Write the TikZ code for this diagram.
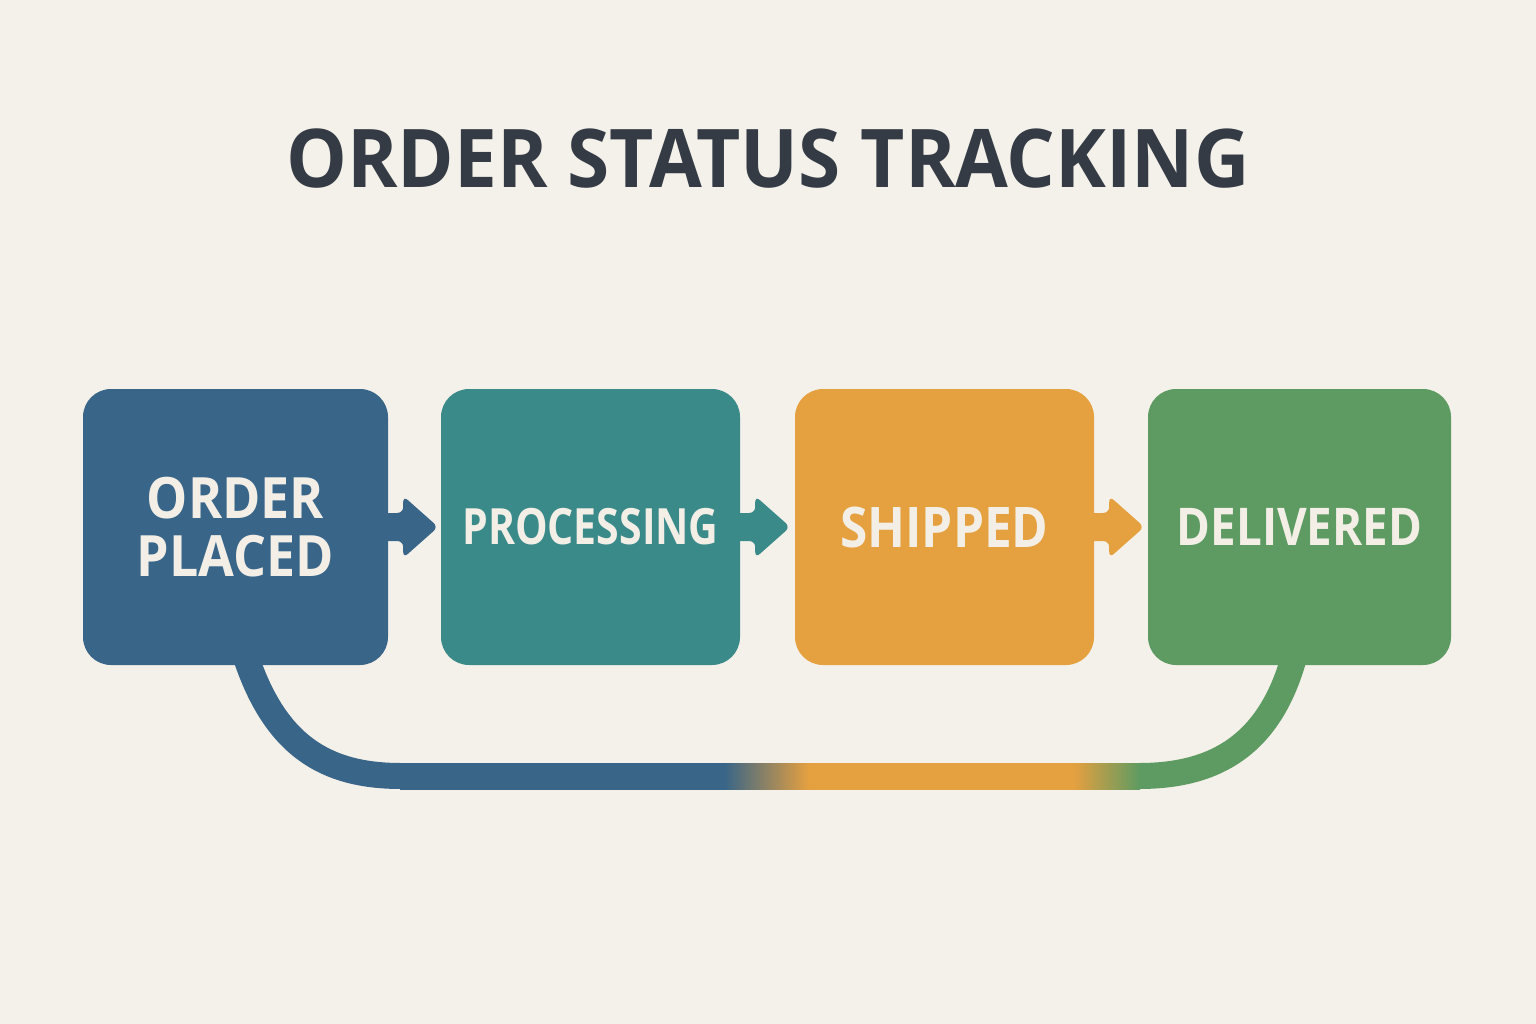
\documentclass[tikz,border=0pt]{standalone}
\usepackage{fontspec}
\setmainfont{Open Sans}
\newfontfamily\titlefont{Open Sans}[FakeStretch=0.945]
\newfontfamily\fontop{Open Sans}[FakeStretch=0.91]
\newfontfamily\fontpr{Open Sans}[FakeStretch=0.82]
\newfontfamily\fontsh{Open Sans}[FakeStretch=0.885]
\newfontfamily\fontde{Open Sans}[FakeStretch=0.88]
\usetikzlibrary{calc}
\definecolor{bg}{HTML}{F4F1EA}
\definecolor{titlec}{HTML}{343B44}
\definecolor{txt}{HTML}{F3EFE7}
\definecolor{cblue}{HTML}{386588}
\definecolor{cteal}{HTML}{3B8A8A}
\definecolor{corange}{HTML}{E5A040}
\definecolor{cgreen}{HTML}{5E9B62}
\pgfdeclarehorizontalshading{returnband}{100bp}{color(0bp)=(cblue); color(46.9bp)=(cblue); color(52.6bp)=(corange); color(70.5bp)=(corange); color(75bp)=(cgreen); color(100bp)=(cgreen)}
\tikzset{
  stagebox/.style={rounded corners=28pt, minimum width=#1, text width=#1, minimum height=276pt,
    inner sep=0pt, align=center, text=txt},
  linkarrow/.style={rounded corners=6pt},
  band/.style={line width=26pt, line cap=butt}
}
\begin{document}
\begin{tikzpicture}[x=1pt,y=-1pt]
\fill[bg] (0,0) rectangle (1536,1024);
\useasboundingbox (0,0) rectangle (1536,1024);

\node[anchor=base, text=titlec, font=\titlefont\bfseries\fontsize{81}{90}\selectfont] (title) at (768,188) {ORDER STATUS TRACKING};

% box placement (names only, drawn later for layering)
\path (235.5,527) node[stagebox=305pt] (op) {}
      (590.5,527) node[stagebox=299pt] (pr) {}
      (944.5,527) node[stagebox=299pt] (sh) {}
      (1299.5,527) node[stagebox=303pt] (de) {};

% return connector
\coordinate (bl) at (400,776);
\coordinate (br) at (1140,776);
\draw[band, cblue] ($(op.south)+(10.5,-8)$) .. controls ($(op.south)+(40,80)$) and ($(bl)+(-75,0)$) .. ($(bl)+(1,0)$);
\draw[band, cgreen] ($(br)+(-1,0)$) .. controls ($(br)+(75,0)$) and ($(de.south)+(-30,80)$) .. ($(de.south)+(-5.5,-8)$);
\shade[shading=returnband] ($(bl)+(0,-13)$) rectangle ($(br)+(0,13)$);

% step arrows
\foreach \a/\c in {op/cblue, pr/cteal, sh/corange}{
  \fill[\c, linkarrow] (\a.east) ++(-6,-14) -- ++(21,0) -- ++(0,-17) -- ++(35,31) -- ++(-35,31) -- ++(0,-17) -- ++(-21,0) -- cycle;
}

% boxes
\node[stagebox=305pt, fill=cblue, font=\fontop\bfseries\fontsize{57}{58}\selectfont] at (op) {ORDER\\PLACED};
\node[stagebox=299pt, fill=cteal, font=\fontpr\bfseries\fontsize{50}{58}\selectfont] at (pr) {PROCESSING};
\node[stagebox=299pt, fill=corange, font=\fontsh\bfseries\fontsize{56}{58}\selectfont] at (sh) {SHIPPED};
\node[stagebox=303pt, fill=cgreen, font=\fontde\bfseries\fontsize{52}{58}\selectfont] at (de) {DELIVERED};
\end{tikzpicture}
\end{document}
